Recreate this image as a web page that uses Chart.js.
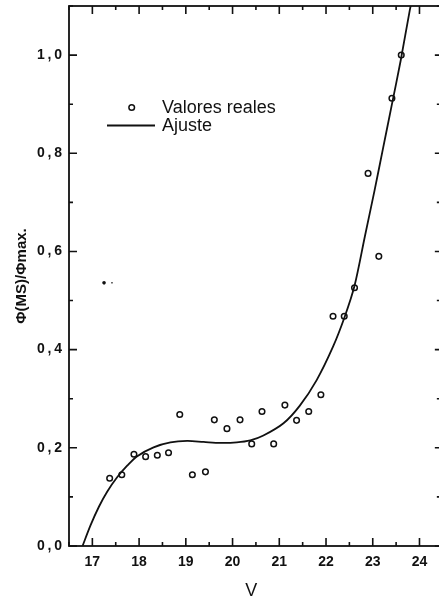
<!DOCTYPE html>
<html lang="es">
<head>
  <meta charset="UTF-8">
  <title>Φ(MS)/Φmax frente a V</title>
  <script src="https://cdn.jsdelivr.net/npm/chart.js"></script>
  <style>
    html, body {
      margin: 0;
      padding: 0;
      background: #fff;
      overflow: hidden;
    }
    .chart-box {
      width: 439px;
      height: 605px;
    }
  </style>
</head>
<body>
  <div class="chart-box">
    <canvas id="phiChart" width="439" height="605"></canvas>
  </div>

  <script>
    // measured points (V, normalised flux)
    const realV = [17.37, 17.63, 17.89, 18.14, 18.39, 18.63, 18.87, 19.14, 19.42, 19.61,
                   19.88, 20.16, 20.41, 20.63, 20.88, 21.12, 21.37, 21.63, 21.89, 22.15,
                   22.39, 22.61, 22.9, 23.13, 23.41, 23.61];
    const realPhi = [0.138, 0.145, 0.187, 0.182, 0.185, 0.190, 0.268, 0.145, 0.151, 0.257,
                     0.239, 0.257, 0.208, 0.274, 0.208, 0.287, 0.256, 0.274, 0.308, 0.468,
                     0.468, 0.526, 0.759, 0.590, 0.912, 1.000];

    // fitted curve
    const fitV = [16.79, 16.96, 17.14, 17.32, 17.53, 17.75, 17.96, 18.31, 18.67, 19.03,
                  19.38, 19.74, 20.09, 20.38, 20.66, 21.09, 21.44, 21.8, 22.15, 22.4,
                  22.61, 22.83, 23.04, 23.22, 23.4, 23.6, 23.79, 23.9];
    const fitPhi = [0.0, 0.042, 0.08, 0.111, 0.14, 0.164, 0.183, 0.201, 0.211, 0.214,
                    0.212, 0.21, 0.211, 0.215, 0.225, 0.25, 0.286, 0.338, 0.406, 0.467,
                    0.53, 0.63, 0.725, 0.81, 0.895, 0.99, 1.09, 1.14];

    // two small stray marks in the upper left
    const speckV = [17.25, 17.42];
    const speckPhi = [0.536, 0.536];

    const xTicks = [17, 18, 19, 20, 21, 22, 23, 24];
    const yTicks = [0.0, 0.2, 0.4, 0.6, 0.8, 1.0];

    const ink = '#111';
    const face = '"Liberation Sans", Arial, sans-serif';

    // the frame's right side sits at V = 24.5, just past the canvas edge
    const frameRightV = 24.5;

    const toXY = (xs, ys) => xs.map((x, i) => ({ x: x, y: ys[i] }));

    // fixed axis sizes, no extra room reserved for edge labels
    const pinScale = size => s => {
      if (s.isHorizontal()) s.height = size; else s.width = size;
      s.paddingTop = s.paddingBottom = s.paddingLeft = s.paddingRight = 0;
    };

    // frame plus inward major/minor ticks on all four sides
    const frameTicks = {
      id: 'frameTicks',
      afterDraw(chart) {
        const { ctx, chartArea: a, scales: { x, y } } = chart;
        const right = x.getPixelForValue(frameRightV);
        ctx.save();
        ctx.strokeStyle = ink;
        ctx.lineWidth = 1.8;
        ctx.strokeRect(a.left, a.top, right - a.left, a.bottom - a.top);

        ctx.lineWidth = 1.6;
        ctx.beginPath();
        xTicks.forEach(v => {
          const px = x.getPixelForValue(v);
          ctx.moveTo(px, a.bottom); ctx.lineTo(px, a.bottom - 8);
          ctx.moveTo(px, a.top); ctx.lineTo(px, a.top + 8);
          const mx = x.getPixelForValue(v - 0.5);
          ctx.moveTo(mx, a.bottom); ctx.lineTo(mx, a.bottom - 4);
          ctx.moveTo(mx, a.top); ctx.lineTo(mx, a.top + 4);
        });
        yTicks.forEach(v => {
          const py = y.getPixelForValue(v);
          ctx.moveTo(a.left, py); ctx.lineTo(a.left + 8, py);
          ctx.moveTo(right, py); ctx.lineTo(right - 8, py);
          const my = y.getPixelForValue(v + 0.1);
          ctx.moveTo(a.left, my); ctx.lineTo(a.left + 4, my);
          ctx.moveTo(right, my); ctx.lineTo(right - 6, my);
        });
        ctx.stroke();
        ctx.restore();
      }
    };

    // legend inside the plot, upper left
    const innerLegend = {
      id: 'innerLegend',
      afterDraw(chart) {
        const { ctx, chartArea: a } = chart;
        const lx = a.left, ly = a.top;
        ctx.save();
        ctx.strokeStyle = ink;
        ctx.fillStyle = ink;
        ctx.lineWidth = 1.5;
        ctx.beginPath();
        ctx.arc(lx + 62.7, ly + 101.5, 2.8, 0, Math.PI * 2);
        ctx.stroke();
        ctx.lineWidth = 1.8;
        ctx.beginPath();
        ctx.moveTo(lx + 38, ly + 119.5);
        ctx.lineTo(lx + 86, ly + 119.5);
        ctx.stroke();
        ctx.font = '18px ' + face;
        ctx.textBaseline = 'middle';
        ctx.fillText('Valores reales', lx + 93, ly + 102);
        ctx.fillText('Ajuste', lx + 93, ly + 120);
        ctx.restore();
      }
    };

    const chart = new Chart(document.getElementById('phiChart'), {
      type: 'scatter',
      data: {
        datasets: [
          {
            label: 'Ajuste',
            data: toXY(fitV, fitPhi),
            showLine: true,
            borderColor: ink,
            borderWidth: 1.8,
            pointRadius: 0,
            tension: 0.3
          },
          {
            label: 'Valores reales',
            data: toXY(realV, realPhi),
            pointStyle: 'circle',
            pointRadius: 2.8,
            pointBorderWidth: 1.5,
            pointBorderColor: ink,
            pointBackgroundColor: '#fff'
          },
          {
            label: 'marcas',
            data: toXY(speckV, speckPhi),
            pointRadius: [1.8, 0.8],
            pointBorderWidth: 0,
            pointBackgroundColor: ink
          }
        ]
      },
      options: {
        responsive: false,
        animation: false,
        devicePixelRatio: 1,
        layout: { padding: { left: 0, top: 6, right: 0, bottom: 0 } },
        plugins: {
          legend: { display: false },
          tooltip: { enabled: false }
        },
        scales: {
          x: {
            type: 'linear',
            min: 16.5,
            max: 24.3,
            afterBuildTicks: s => { s.ticks = xTicks.map(v => ({ value: v })); },
            afterFit: pinScale(59),
            grid: { display: false, drawTicks: false },
            border: { display: false },
            ticks: {
              padding: 8,
              color: ink,
              font: { family: face, size: 14, weight: 'bold' },
              callback: v => String(v)
            },
            title: {
              display: true,
              text: 'V',
              color: ink,
              padding: { top: 0, bottom: 3 },
              font: { family: face, size: 18 }
            }
          },
          y: {
            type: 'linear',
            min: 0,
            max: 1.1,
            afterBuildTicks: s => { s.ticks = yTicks.map(v => ({ value: v })); },
            afterFit: pinScale(69),
            grid: { display: false, drawTicks: false },
            border: { display: false },
            ticks: {
              padding: 7,
              color: ink,
              font: { family: face, size: 14, weight: 'bold' },
              callback: v => v.toFixed(1).replace('.', '\u2009,\u2009')
            },
            title: {
              display: true,
              text: 'Φ(MS)/Φmax.',
              color: ink,
              padding: { top: 13, bottom: 0 },
              font: { family: face, size: 15, weight: 'bold' }
            }
          }
        }
      },
      plugins: [frameTicks, innerLegend]
    });
  </script>
</body>
</html>
